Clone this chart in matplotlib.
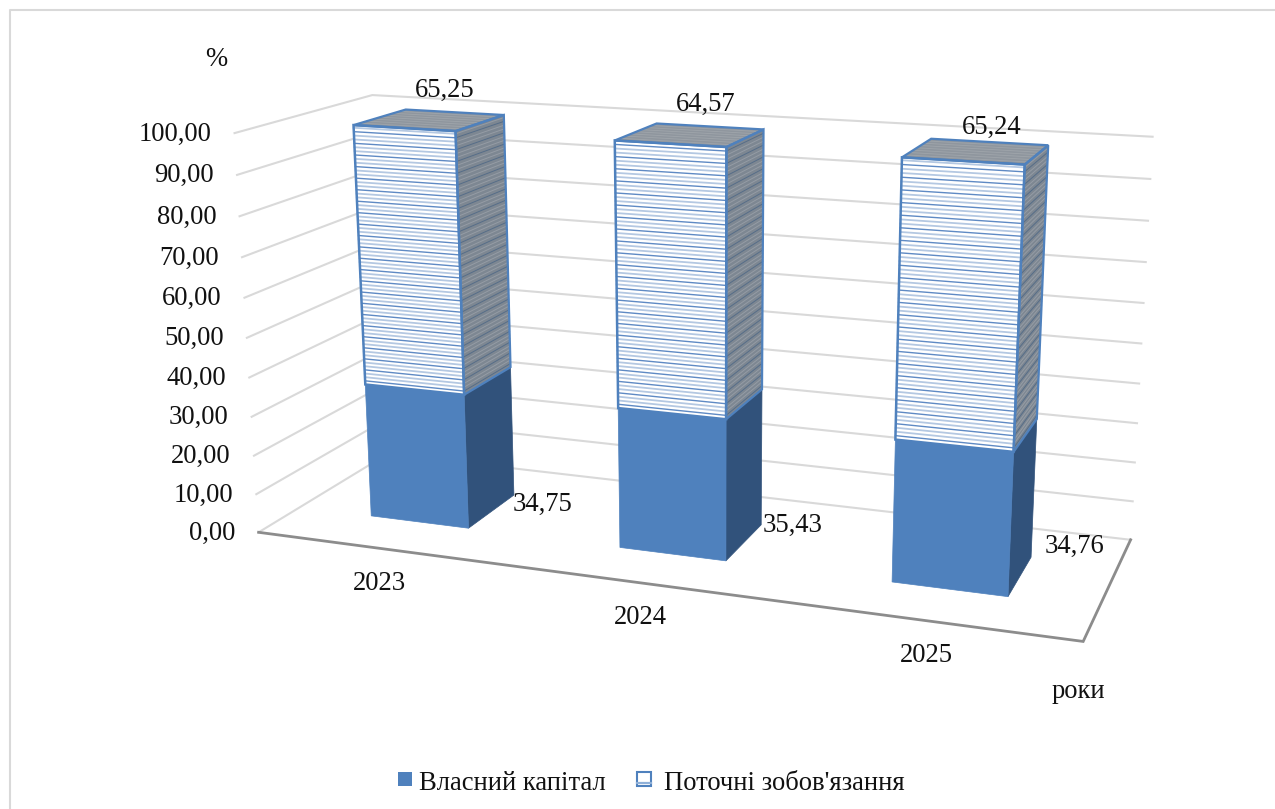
# 3D-вигляд стовпчикової діаграми (структура пасивів), проекція рахується вручну
import numpy as np
import matplotlib.pyplot as plt
from matplotlib.patches import Polygon, Rectangle

plt.rcParams['font.family'] = ['Liberation Serif', 'DejaVu Serif']

years = ['2023', '2024', '2025']
own_capital = [34.75, 35.43, 34.76]
liabilities = [65.25, 64.57, 65.24]
own_labels = ['34,75', '35,43', '34,76']
liab_labels = ['65,25', '64,57', '65,24']
y_ticks = [0, 10, 20, 30, 40, 50, 60, 70, 80, 90, 100]
y_tick_labels = ['0,00', '10,00', '20,00', '30,00', '40,00', '50,00',
                 '60,00', '70,00', '80,00', '90,00', '100,00']

BLUE = '#4f81bd'
BLUE_DARK = '#31527b'
GRID = '#d9d9d9'
FLOOR = '#8c8c8c'

# кути коробки діаграми: (категорія, значення, глибина) -> пікселі
box_world = [(0, 0, 0), (3, 0, 0), (3, 0, 1), (0, 0, 1),
             (0, 100, 0), (3, 100, 0), (3, 100, 1), (0, 100, 1)]
box_px = [(258, 531), (1083, 640), (1131, 541), (388, 455),
          (234, 132), (1107, 191), (1151, 133), (373, 96)]


def fit_projection(world, px):
    rows = []
    for (x, z, d), (u, v) in zip(world, px):
        rows.append([x, z, d, 1, 0, 0, 0, 0, -u*x, -u*z, -u*d, -u])
        rows.append([0, 0, 0, 0, x, z, d, 1, -v*x, -v*z, -v*d, -v])
    _, _, vt = np.linalg.svd(np.array(rows, dtype=float))
    return vt[-1].reshape(3, 4)


M = fit_projection(box_world, box_px)


def proj(x, z, d):
    p = M @ np.array([x, z, d, 1.0])
    return p[0] / p[2], p[1] / p[2]


def face(*pts):
    return [proj(*p) for p in pts]


fig = plt.figure(figsize=(12.75, 8.09), dpi=100)
ax = fig.add_axes([0, 0, 1, 1])
ax.set_xlim(0, 1275)
ax.set_ylim(809, 0)
ax.axis('off')

# рамка: лише зліва і зверху, справа її немає
ax.plot([9.5, 9.5, 1275], [809, 10, 10], color='#d9d9d9', lw=1.5)

# сітка
for z in y_ticks:
    pts = face((0, z, 0), (0, z, 1), (3, z, 1))
    ax.plot(*zip(*pts), color=GRID, lw=1.5, zorder=1, solid_joinstyle='miter')
ax.plot(*zip(*face((0, 0, 0), (3, 0, 0), (3, 0, 1))), color=FLOOR, lw=2, zorder=2,
        solid_joinstyle='miter')

# стовпчики
bar_centers = [0.5, 1.497, 2.497]
bar_w = 0.4
d0, d1 = 0.3, 0.7
hatch_step = 0.95   # приблизно 4 пікселі, кожна третя лінія темніша

for i in range(3):
    x0 = bar_centers[i] - bar_w / 2
    x1 = bar_centers[i] + bar_w / 2
    low = own_capital[i]
    top = low + liabilities[i]
    # власний капітал
    ax.add_patch(Polygon(face((x1, 0, d0), (x1, 0, d1), (x1, low, d1), (x1, low, d0)),
                         fc=BLUE_DARK, ec=BLUE_DARK, lw=0.5, zorder=3))
    ax.add_patch(Polygon(face((x0, 0, d0), (x1, 0, d0), (x1, low, d0), (x0, low, d0)),
                         fc=BLUE, ec=BLUE, lw=0.5, zorder=3))
    # поточні зобов'язання
    ax.add_patch(Polygon(face((x1, low, d0), (x1, low, d1), (x1, top, d1), (x1, top, d0)),
                         fc='#7d8792', ec='none', zorder=4))
    ax.add_patch(Polygon(face((x0, low, d0), (x1, low, d0), (x1, top, d0), (x0, top, d0)),
                         fc='white', ec='none', zorder=4))
    ax.add_patch(Polygon(face((x0, top, d0), (x1, top, d0), (x1, top, d1), (x0, top, d1)),
                         fc='#8f969e', ec='none', zorder=4))
    for k, z in enumerate(np.arange(low + hatch_step, top, hatch_step)):
        if k % 3 == 0:
            ax.plot(*zip(*face((x0, z, d0), (x1, z, d0))), color='#5f8ac4', lw=1.0, zorder=5)
            ax.plot(*zip(*face((x1, z, d0), (x1, z, d1))), color='#566d88', lw=0.7, zorder=5)
        else:
            ax.plot(*zip(*face((x0, z, d0), (x1, z, d0))), color='#b4c8e2', lw=1.3, zorder=5)
            ax.plot(*zip(*face((x1, z, d0), (x1, z, d1))), color='#959ca5', lw=0.7, zorder=5)
    # дрібна текстура верхньої грані
    for d in np.linspace(d0, d1, 9)[1:-1]:
        ax.plot(*zip(*face((x0, top, d), (x1, top, d))), color='#9fa5ab', lw=0.6, zorder=5)
    ax.add_patch(Polygon(face((x0, low, d0), (x1, low, d0), (x1, top, d0), (x0, top, d0)),
                         fc='none', ec=BLUE, lw=1.8, zorder=6))
    ax.add_patch(Polygon(face((x1, low, d0), (x1, low, d1), (x1, top, d1), (x1, top, d0)),
                         fc='none', ec=BLUE, lw=1.6, zorder=6))
    ax.add_patch(Polygon(face((x0, top, d0), (x1, top, d0), (x1, top, d1), (x0, top, d1)),
                         fc='none', ec=BLUE, lw=1.6, zorder=6))

# підписи
FS = 19.2
for z, lab in zip(y_ticks, y_tick_labels):
    u, v = proj(0, z, 0)
    ax.text(u - 23, v + 1, lab, ha='right', va='center', fontsize=FS, color='#111111')

own_pos = [(543, 504), (793, 525), (1075, 546)]
liab_pos = [(445, 90), (706, 104), (992, 127)]
year_pos = [(379, 584), (640, 618), (926, 656)]
for lab, (u, v) in zip(own_labels, own_pos):
    ax.text(u, v, lab, ha='center', va='center', fontsize=FS, color='#111111', zorder=8)
for lab, (u, v) in zip(liab_labels, liab_pos):
    ax.text(u, v, lab, ha='center', va='center', fontsize=FS, color='#111111', zorder=8)
for lab, (u, v) in zip(years, year_pos):
    ax.text(u, v, lab, ha='center', va='center', fontsize=FS, color='#111111')

ax.text(216, 59, '%', ha='center', va='center', fontsize=FS, color='#111111')
ax.text(1078, 692, 'роки', ha='center', va='center', fontsize=FS, color='#111111')

# легенда
ax.add_patch(Rectangle((398, 772), 14, 14, fc=BLUE, ec='none'))
ax.text(419, 783, 'Власний капітал', ha='left', va='center', fontsize=FS, color='#111111')
ax.add_patch(Rectangle((637, 772), 14, 14, fc='white', ec=BLUE, lw=1.5))
ax.plot([637, 651], [783, 783], color='#8fb0d8', lw=1.6)
ax.text(664, 783, "Поточні зобов'язання", ha='left', va='center', fontsize=FS, color='#111111')

fig.savefig('out.png', dpi=100)
